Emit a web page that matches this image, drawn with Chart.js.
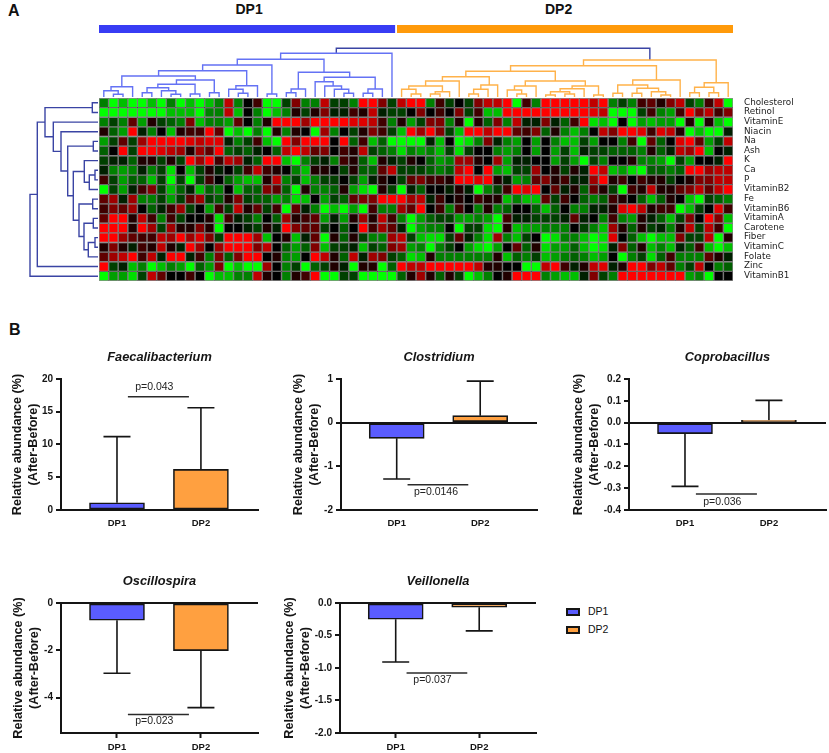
<!DOCTYPE html>
<html>
<head>
<meta charset="utf-8">
<title>DP1 DP2 heatmap and abundance bars</title>
<script src="https://cdn.jsdelivr.net/npm/chart.js@4/dist/chart.umd.min.js"></script>
<style>
  html, body { margin: 0; padding: 0; background: #fff; width: 829px; height: 753px; overflow: hidden; }
  canvas { position: absolute; }
  .txt { position: absolute; font-family: "Liberation Sans", Arial, sans-serif; color: #111; white-space: nowrap; line-height: 1; }
</style>
</head>
<body>
<script>
// Heatmap: one list per nutrient, one value per subject (-4 green ... +4 red)
const rowNames = ['Cholesterol', 'Retinol', 'VitaminE', 'Niacin', 'Na', 'Ash', 'K', 'Ca', 'P', 'VitaminB2', 'Fe', 'VitaminB6', 'VitaminA', 'Carotene', 'Fiber', 'VitaminC', 'Folate', 'Zinc', 'VitaminB1'];

const cholesterol = [-2,-4,-3,-4,-4,-3,-4,-2,-4,-3,-4,-3,-2,3,-2,0,1, -4,-4,-1,2,-2,-2,3,-1,-1,-2,4,4,2,-1,3,4,4,-2,1,-1,0,-1,2,3,3,4,-4,1, -2,4,4,4,4,4,3,4,-2,-1,-2,1,1.5,0.5,2,3,-1,-2,1,3,-4];
const retinol = [-4,-4,-4,-4,-4,-4,-4,-3,-3,-3,-4,-2,-2,3,-3,0,-2, -4,-3,-2,0.5,-1,0.5,2,-0.5,-0.5,1,0.5,3,-0.5,-1,-1,0,2,0,1,0,2,-1,1,-3,-3,4,4,4, 4,4,4,4,4,4,3.5,3,-4,-4,-4,-1,1,-2,-2.5,1,4,2,3,1,2];
const vitaminE = [-2,-1,-2,1.5,-2.5,0.5,-1,-1.5,-2,2,-3,-2,-2,-2.5,1.5,0,-2, 0.5,4,4,4,2.5,4,4,4,4,3.5,3.5,3,1,-2,0.5,-2.5,-1,2,2,-2,0.5,-4,0.5,-1.5,2,-2,3,-0.5, -0.5,2,-0.5,-1.5,1,4,-3.5,-3,-4,0,-4,-2.5,-3,-2.5,-2.5,-4,0.5,-4,0.5,-3,-4];
const niacin = [0.5,-1.5,-2.5,4,-0.5,-2,0,-3,0.5,1,1,4,1.5,-4,-3,-4,-2, -4,0.5,-2,0.5,0,-4,2.5,-2,0,-1,0.5,2,1,-1,-3,4,2.5,4,2,-1,-3,4,4,3,4,4,1.5,1, 2,-1.5,0.5,-2,-3,-2,0,3,2,4,4,3.5,1,3.5,3,0.5,-4,-3,-4,-4,-0.5];
const sodium = [-2.5,-1,1.5,-1,2.5,4,4,4,4,3.5,3,3.5,3.5,-0.5,-2,-1,1, -3,-4,4,2,4,4,4,0,4,-1.5,1,-3,-1.5,-4,-4,-4,-4,-0.5,-3,0,-4,-3.5,-2,2,-0.5,-2,-2.5,0, -2.5,0,-2,-3,-3,-1,-2.5,0,0,-2,1,-4,1.5,-1.5,0,3.5,4,1.5,-2.5,-1,3];
const ash = [-1.5,0,4,-1,4,4,3.5,3,2.5,0.5,2.5,1.5,4,-1.5,-1,-1.5,-0.5, 0,-1.5,3,4,3,1.5,2,0,1,0.5,3,-1,-1.5,-2,-3.5,-2,-2.5,-2,-3,-1,-3.5,-1,0,0,-2,-2.5,-2,0, -2.5,0,-2.5,-1,-3,-0.5,-1,-1,-1.5,-1.5,-1.5,-2,0.5,-1.5,-0.5,3,2.5,4,-3,0,-0.5];
const potassium = [-1,-0.5,-0.5,-1.5,0.5,0.5,-1,0.5,-1,4,2.5,4,1,3,2.5,-0.5,-1.5, 4,4,-3,-4,-2,-1,-0.5,-2,1,0.5,-1.5,-3,0.5,-0.5,-1,0.5,0,-1.5,-2.5,-2,2.5,2.5,0.5,0,2.5,-2.5,-0.5,-0.5, 0,0,-2.5,-1,-2.5,-4,-1,-2,0,0,0.5,-2,-2,-2.5,-4,-1,-2.5,0,0,-0.5,4];
const calcium = [-0.5,-2,-2.5,-2,-0.5,-2,-1,-3.5,0,-3,-1,0.5,-0.5,0,-1,1,3, 1,0.5,0,-2,-3,0.5,0.5,0,-1,0.5,-1.5,-1.5,1.5,3,-1,-1,-1,-1.5,-2,-1.5,3,4,0,4,-2.5,-3,-1,-1, 2.5,0,0.5,-1,0.5,-0.5,4,3,-3,-2.5,-3.5,-4,-1.5,-1.5,-2,-1.5,4,4,2.5,3,3];
const phosphorus = [1,-1,-2.5,-1.5,-1.5,-3,-1,-4,-1,-4,-1,1,0,-1.5,-2.5,-3,-3, 0.5,3,-2,-1,-3,-2,-1,-1,0,-1,-2.5,-0.5,0.5,0,-1,1.5,2,1,1,0.5,4,4,3.5,4,0.5,-0.5,-2.5,-2, 1.5,2,0.5,1,-0.5,-0.5,2.5,4,0.5,1,0,1,0.5,0.5,-1,0,0.5,2,2,3,3];
const vitaminB2 = [-4,-1,-2.5,-0.5,1,2,-1,-3,-1.5,-0.5,-3,-1.5,-2,0,-3,-1.5,-1.5, 2,1.5,-1.5,-4,0.5,-2,-2,-1.5,0.5,-2.5,-3.5,-4,0.5,-1,-4,-0.5,-1.5,0,0,-0.5,0.5,-0.5,-4,-2,-1,1,4,3.5, 4,0,1.5,-0.5,0.5,-1.5,1.5,0.5,-1,-4,1,0.5,3,0.5,0.5,1.5,2,3,1.5,3,4];
const iron = [1.5,2.5,-0.5,2.5,-2,-2,-1,-2.5,-1,1.5,2.5,-1,-1.5,0.5,2,-1,-1.5, -1.5,-2.5,-2,-3.5,-3,0,-2.5,-1,-1.5,1.5,2,2,4,4,4,2.5,3,-0.5,1,0,0.5,0,1,0.5,0.5,-3,-2,-3, -3,1.5,-1,1,0,-1.5,-2,-1.5,1,0.5,0,-1.5,-3,-1.5,0.5,0,-3,-4,-1,-1.5,-2];
const vitaminB6 = [1,2,1.5,2.5,0,-1.5,-0.5,1,2.5,-1,0,-2.5,1,-1,3,0.5,1.5, -1,1,-4,1.5,-0.5,-2,-4,-3,-4,-2.5,-4,1,-2,-2,2.5,1.5,4,0,1,-2,1,0,-2,0.5,-2,-1.5,0,0, -1.5,-3,-1.5,0,-2,-2,-0.5,-0.5,0.5,3.5,4,3,0.5,1,1,-4,-3,-1,0,3.5,1];
const vitaminA = [1.5,4,4,0.5,3,1,-2,1,-1,0,0,0.5,-3.5,1,-0.5,-1,-2, 0,-1.5,2.5,0.5,1,1.5,-2.5,-0.5,-2.5,0.5,2.5,0.5,3,1,-2,-4,-2.5,-1.5,-1,-1,-2.5,-2.5,-2,-2.5,-4,1,-0.5,-0.5, -1,-1,-1,-0.5,1.5,-0.5,0,-2,1,-2,-2.5,0.5,-0.5,-1.5,-3,-1,2,0,4,2,-3];
const carotene = [4,4,4,0.5,4,2.5,-1,2.5,0.5,0.5,2,0.5,-4,0,0,-0.5,-1, 0.5,-0.5,4,2,1.5,1.5,-1,0,-1.5,0,4,1,2.5,1.5,-0.5,-4,-2.5,-2,-2,0,-4,-1,-1,-3.5,-4,0.5,-3,-2.5, -2.5,-2,-2,-2,0,-1,-2,-3,2.5,0.5,-1.5,0.5,-1,-0.5,-2,0.5,3,-1,3,1,-4];
const fiber = [4,4,2.5,1.5,1,1,3,2.5,4,2.5,3.5,2,-1,4,4,4,2.5, -3,0,0.5,-3,-0.5,1.5,-4,0.5,-1.5,0.5,-1,-2,-2,2.5,3,-1,-3,-3.5,-3.5,-1,1.5,-0.5,-2,-3.5,2.5,-2,-3,-1, 0,-4,-3.5,-2,-2,-3,-4,-3.5,3.5,0,-1.5,-3,-4,-3,-3,2,-1,-1,3,-4,0.5];
const vitaminC = [0.5,2,0.5,-0.5,1,0.5,3,0.5,-0.5,4,2.5,0,2.5,4,4,4,2, 3,0,-1.5,-2.5,-1.5,2,-3,-1,-1,-0.5,-3,-1,-1.5,2,2.5,-2.5,-2,-4,-2,-1,0,-2.5,-3.5,-4,-2.5,0,1.5,-1.5, 0.5,-3.5,-2.5,-2.5,-1.5,-3,-4,-3.5,-0.5,2,-1.5,0.5,-3,-2,-3,-0.5,-1.5,1,-3,-4,-3];
const folate = [1.5,2.5,3,4,1,3,-0.5,4,4,-0.5,1,-2,2,-1.5,2,4,4, 0,0.5,-2,-2.5,0,4,3,0.5,-1.5,3,-0.5,2.5,2,-1,-1.5,-3.5,-3,0.5,-2,-2,-2,-2,-2,-2,0.5,-3,-1.5,-2, -1,-3,-2.5,-2,-1.5,-2,-3,-2.5,0,-4,-2,-1,-3.5,-1.5,1,-2,-2,-2,1.5,0.5,-0.5];
const zinc = [4,-1,-0.5,-3,-2,-4,-3,-2,-2.5,-4,-1.5,-2.5,2,-4,-3,-4,-4, 2.5,0,-2,-1,-4,-1.5,-1,0.5,-0.5,-4,0.5,0.5,-4,-1.5,4,3,3,4,4,4,4,4,3,0.5,0.5,0,0,-4, -4,3,4,1,-0.5,0.5,3,3.5,-0.5,0.5,4,4,2,3,1.5,-2,-1,3,0,-2,-1.5];
const vitaminB1 = [-4,-2.5,-2.5,-3.5,-1,3,1.5,0,0,1,0,-4,-3,-3,-2,-2,3, 0.5,0,-2,0.5,1,4,-4,-4,-1,-1,-4,-4,-4,-4,-1.5,0.5,2.5,0.5,-1.5,0.5,-1,-4,-3,-2,0,0.5,4,4, 4,-2,-2.5,-3,-3,-0.5,2,-1,-2,4,4,4,4,4,4,4,-2.5,-2,-4,0,0];

const heatRows = [cholesterol, retinol, vitaminE, niacin, sodium, ash, potassium, calcium, phosphorus, vitaminB2, iron, vitaminB6, vitaminA, carotene, fiber, vitaminC, folate, zinc, vitaminB1];

// Column groups, number of subjects in each
const groupNames = ['DP1', 'DP2'];
const groupSizes = [31, 35];

// Dendrograms: [merge height, left branch, right branch], a plain number is a leaf
const subtreeC = [11.3, [7.3, 0, [3.7, 1, 2]], 3];
const subtreeD = [18, [13.7, [10.3, [5.3, 4, 5], [7.3, 6, [3.7, 7, 8]]], [4, 9, 10]], [5.3, 11, 12]];
const subtreeE = [12.3, [8.7, 13, [4.7, 14, 15]], 16];
const subtreeH = [16.3, 22, [12, 23, [8.7, 24, [4.7, 25, 26]]]];
const subtreeG = [25.7, [9, [5.3, 19, 20], 21], [20.7, subtreeH, [9, [4.7, 27, 28], 29]]];
const treeDp1 = [44.7, [38.7, [33, [27.3, [22, subtreeC, subtreeD], subtreeE], [4, 17, 18]], subtreeG], 30];

const subtreeK = [21.3, [17, [12, [8.7, 31, [4, 32, 33]], [6.3, [4, 34, 35], 36]], 37], [13, [8.7, [4, 38, 39], 40], 41]];
const subtreeL = [17, [12, [8, 42, [4, 43, 44]], 45], [12, [9.3, [6.3, [3, 46, 47], [4, 48, 49]], 50], [3, 51, 52]]];
const subtreeM = [18, [13, [4.7, 53, 54], [9.7, [4.7, 55, 56], [6.3, 57, [3, 58, 59]]]], 60];
const subtreeN = [15.3, [10.7, [5.3, 61, 62], [5.3, 63, 64]], 65];
const treeDp2 = [38, [32.3, [26.7, subtreeK, subtreeL], subtreeM], subtreeN];
const rootHeight = 49.7;

const rowLower = [20, [6.3, 10, 11], [15, [5.7, 12, 13], [10.7, [4, 14, 15], 16]]];
const rowUpper = [14.7, 6, [9.7, [4, 7, 8], 9]];
const rowTree = [69, [61.7, [54, [6.7, 0, 1], [45.7, 2, [38, 3, [31.3, [5.7, 4, 5], [25.7, rowUpper, rowLower]]]]], 17], 18];

// Panel B values
const barLabels = ['DP1', 'DP2'];

const faecaliValues = [1.1, 6.2];
const faecaliErrors = [11.2, 15.6];
const faecaliTicks = [0, 5, 10, 15, 20];
const faecaliTickLabels = ['0', '5', '10', '15', '20'];

const clostridiumValues = [-0.36, 0.16];
const clostridiumErrors = [-1.29, 0.95];
const clostridiumTicks = [-2, -1, 0, 1];
const clostridiumTickLabels = ['-2', '-1', '0', '1'];

const coprobacillusValues = [-0.05, 0.011];
const coprobacillusErrors = [-0.292, 0.102];
const coprobacillusTicks = [-0.4, -0.3, -0.2, -0.1, 0, 0.1, 0.2];
const coprobacillusTickLabels = ['-0.4', '-0.3', '-0.2', '-0.1', '0.0', '0.1', '0.2'];

const oscillospiraValues = [-0.73, -2.01];
const oscillospiraErrors = [-2.97, -4.42];
const oscillospiraTicks = [-4, -2, 0];
const oscillospiraTickLabels = ['-4', '-2', '0'];

const veillonellaValues = [-0.25, -0.065];
const veillonellaErrors = [-0.908, -0.43];
const veillonellaTicks = [-2, -1.5, -1, -0.5, 0];
const veillonellaTickLabels = ['-2.0', '-1.5', '-1.0', '-0.5', '0.0'];

const FONT = '"Liberation Sans", Arial, sans-serif';
const DP1_FILL = '#5a5cff';
const DP2_FILL = '#ffa040';
const INK = '#151515';

// Helpers
function addCanvas(left, top, width, height) {
  const c = document.createElement('canvas');
  c.width = width;
  c.height = height;
  c.style.left = left + 'px';
  c.style.top = top + 'px';
  document.body.appendChild(c);
  return c.getContext('2d');
}

function addText(text, left, top, css) {
  const d = document.createElement('div');
  d.className = 'txt';
  d.textContent = text;
  d.style.left = left + 'px';
  d.style.top = top + 'px';
  Object.assign(d.style, css);
  document.body.appendChild(d);
  return d;
}

function heatColor(v) {
  const level = Math.round(255 * Math.abs(v) / 4);
  return v > 0 ? `rgb(${level},0,0)` : `rgb(0,${level},0)`;
}

// Walks a tree and pushes its elbows as points, NaN breaks the line between them
function collect(tree, out) {
  if (typeof tree === 'number') return { pos: tree + 0.5, h: 1 };
  const l = collect(tree[1], out);
  const r = collect(tree[2], out);
  out.push({ pos: l.pos, h: l.h }, { pos: l.pos, h: tree[0] }, { pos: r.pos, h: tree[0] }, { pos: r.pos, h: r.h }, { pos: NaN, h: NaN });
  return { pos: (l.pos + r.pos) / 2, h: tree[0] };
}

function lineSet(points, color, width) {
  return { data: points, borderColor: color, borderWidth: width, showLine: true, pointRadius: 0, tension: 0 };
}

const hiddenPlugins = { legend: { display: false }, title: { display: false }, tooltip: { enabled: false } };

// Group bar on top of the heatmap
new Chart(addCanvas(99, 25, 634, 8), {
  type: 'bar',
  data: {
    labels: ['groups'],
    datasets: [
      { data: [groupSizes[0]], backgroundColor: '#383cf4', borderColor: '#fff', borderWidth: { right: 2 }, borderSkipped: false },
      { data: [groupSizes[1]], backgroundColor: '#ff9a0a' }
    ]
  },
  options: {
    indexAxis: 'y', responsive: false, animation: false,
    layout: { padding: 0 },
    plugins: hiddenPlugins,
    datasets: { bar: { barPercentage: 1, categoryPercentage: 1 } },
    scales: {
      x: { display: false, stacked: true, min: 0, max: 66 },
      y: { display: false, stacked: true }
    }
  }
});

// Column dendrogram
const dp1Segments = [];
const dp2Segments = [];
const dp1Top = collect(treeDp1, dp1Segments);
const dp2Top = collect(treeDp2, dp2Segments);
const rootSegment = [
  { pos: dp1Top.pos, h: dp1Top.h }, { pos: dp1Top.pos, h: rootHeight },
  { pos: dp2Top.pos, h: rootHeight }, { pos: dp2Top.pos, h: dp2Top.h }
];
const toColumnPoint = p => ({ x: p.pos, y: p.h });

new Chart(addCanvas(99, 40, 634, 58), {
  type: 'scatter',
  data: {
    datasets: [
      lineSet(dp1Segments.map(toColumnPoint), '#6472f4', 1.4),
      lineSet(dp2Segments.map(toColumnPoint), '#ffb24a', 1.4),
      lineSet(rootSegment.map(toColumnPoint), '#3a44a4', 1.4)
    ]
  },
  options: {
    responsive: false, animation: false,
    layout: { padding: 0 },
    plugins: hiddenPlugins,
    scales: {
      x: { display: false, type: 'linear', min: 0, max: 66 },
      y: { display: false, min: 0, max: 58 }
    }
  }
});

// Row dendrogram
const rowSegments = [];
collect(rowTree, rowSegments);

new Chart(addCanvas(24, 98, 75, 183), {
  type: 'scatter',
  data: { datasets: [lineSet(rowSegments.map(p => ({ x: p.h, y: p.pos })), '#3a44a4', 1.4)] },
  options: {
    responsive: false, animation: false,
    layout: { padding: 0 },
    plugins: hiddenPlugins,
    scales: {
      x: { display: false, type: 'linear', min: 0, max: 75, reverse: true },
      y: { display: false, min: 0, max: 19, reverse: true }
    }
  }
});

// Row names next to the heatmap, placed with the y scale of the chart
const rowLabelPlugin = {
  id: 'rowLabels',
  afterDraw(chart) {
    const { ctx, chartArea, scales: { y } } = chart;
    ctx.save();
    ctx.fillStyle = '#222';
    ctx.font = '8.8px "DejaVu Sans", sans-serif';
    ctx.textBaseline = 'middle';
    rowNames.forEach((name, r) => ctx.fillText(name, chartArea.right + 11, y.getPixelForValue(r + 0.45)));
    ctx.restore();
  }
};

// Heatmap, a stacked bar per subject with one unit per nutrient
const columnLabels = heatRows[0].map((v, i) => i + 1);

new Chart(addCanvas(99, 98, 730, 183), {
  type: 'bar',
  data: {
    labels: columnLabels,
    datasets: heatRows.map((row, r) => ({
      label: rowNames[r],
      data: row.map(() => 1),
      backgroundColor: row.map(heatColor),
      borderColor: 'rgba(0,0,0,0.45)',
      borderWidth: 1,
      borderSkipped: false
    }))
  },
  plugins: [rowLabelPlugin],
  options: {
    responsive: false, animation: false,
    layout: { padding: { right: 96 } },
    plugins: hiddenPlugins,
    datasets: { bar: { barPercentage: 1, categoryPercentage: 1 } },
    scales: {
      x: { display: false, stacked: true },
      y: { display: false, stacked: true, min: 0, max: 19, reverse: true }
    }
  }
});

// Error bars, significance line and p text for the bar panels
const errorBarPlugin = {
  id: 'errorBars',
  beforeDatasetsDraw(chart, args, opts) {
    const { ctx, scales: { x, y } } = chart;
    ctx.save();
    ctx.strokeStyle = INK;
    ctx.lineWidth = 1.6;
    opts.values.forEach((v, i) => {
      const px = x.getPixelForValue(i + 1);
      const top = y.getPixelForValue(opts.errors[i]);
      ctx.beginPath();
      ctx.moveTo(px, y.getPixelForValue(v));
      ctx.lineTo(px, top);
      ctx.moveTo(px - 13.5, top);
      ctx.lineTo(px + 13.5, top);
      ctx.stroke();
    });
    ctx.restore();
  },
  afterDatasetsDraw(chart, args, opts) {
    const { ctx, scales: { x, y } } = chart;
    ctx.save();
    ctx.strokeStyle = '#2a2a2a';
    ctx.lineWidth = 1.5;
    const sy = y.getPixelForValue(opts.sigValue);
    ctx.beginPath();
    ctx.moveTo(x.getPixelForValue(1.13), sy);
    ctx.lineTo(x.getPixelForValue(1.857), sy);
    ctx.stroke();
    ctx.fillStyle = '#222';
    ctx.font = `10.5px ${FONT}`;
    ctx.textAlign = 'center';
    ctx.textBaseline = 'middle';
    ctx.fillText(opts.pText, x.getPixelForValue(opts.pX), y.getPixelForValue(opts.pValue));
    ctx.restore();
  }
};

// left/right/top/bottom are where the axes sit, labelLeft where the y title starts
function barPanel(box, name, values, errors, yTicks, tickLabels, yMin, yMax, sig, bottomTicks) {
  const canvasLeft = box.labelLeft;
  const canvasTop = box.top - 29;
  const footer = box.footer;
  const ctx = addCanvas(canvasLeft, canvasTop, box.right + 2 - canvasLeft, box.bottom + footer - canvasTop);
  new Chart(ctx, {
    type: 'bar',
    data: {
      datasets: [{
        data: values.map((v, i) => ({ x: i + 1, y: v })),
        backgroundColor: [DP1_FILL, DP2_FILL],
        borderColor: INK,
        borderWidth: 1.6,
        borderSkipped: false,
        barThickness: 55
      }]
    },
    plugins: [errorBarPlugin],
    options: {
      responsive: false, animation: false,
      layout: { padding: { left: 0, right: 2, top: 0, bottom: 0 } },
      plugins: {
        legend: { display: false },
        tooltip: { enabled: false },
        title: {
          display: true, text: name, fullSize: false, color: INK,
          font: { family: FONT, size: 12.8, weight: 'bold', style: 'italic' },
          padding: { top: 0, bottom: 13.6 }
        },
        errorBars: { values, errors, sigValue: sig.line, pValue: sig.textAt, pX: sig.textX, pText: sig.text }
      },
      scales: {
        x: {
          type: 'linear', min: 0.333, max: 2.68, offset: false,
          afterBuildTicks: scale => { scale.ticks = barLabels.map((l, i) => ({ value: i + 1 })); },
          grid: { offset: false, drawOnChartArea: false, drawTicks: bottomTicks, tickLength: 5, tickWidth: 2, tickColor: INK },
          border: { color: INK, width: 2 },
          ticks: {
            autoSkip: false, maxRotation: 0, padding: bottomTicks ? 3.5 : 8, color: INK,
            font: { family: FONT, size: 9.5, weight: 'bold' },
            callback: v => barLabels[v - 1]
          },
          afterFit: scale => { scale.height = footer; }
        },
        y: {
          min: yMin, max: yMax,
          afterBuildTicks: scale => { scale.ticks = yTicks.map(value => ({ value })); },
          grid: {
            tickLength: 5, tickWidth: 2, tickColor: INK, lineWidth: 2,
            color: c => (c.tick && c.tick.value === 0 ? INK : 'rgba(0,0,0,0)')
          },
          border: { color: INK, width: 2 },
          ticks: {
            autoSkip: false, padding: 3, color: INK,
            font: { family: FONT, size: 10, weight: 'bold' },
            callback: (v, i) => tickLabels[i]
          },
          title: {
            display: true, text: ['Relative abundance (%)', '(After-Before)'], color: INK,
            font: { family: FONT, size: 12.6, weight: 'bold', lineHeight: 1.27 },
            padding: { top: 4, bottom: 0 }
          },
          afterFit: scale => { scale.width = box.left - canvasLeft; }
        }
      }
    }
  });
}

barPanel({ labelLeft: 6, left: 61, right: 258, top: 379, bottom: 510, footer: 24 }, 'Faecalibacterium',
  faecaliValues, faecaliErrors, faecaliTicks, faecaliTickLabels, 0, 20,
  { line: 17.3, textAt: 18.8, textX: 1.445, text: 'p=0.043' }, false);

barPanel({ labelLeft: 287, left: 341, right: 537, top: 379, bottom: 510, footer: 24 }, 'Clostridium',
  clostridiumValues, clostridiumErrors, clostridiumTicks, clostridiumTickLabels, -2, 1,
  { line: -1.42, textAt: -1.6, textX: 1.47, text: 'p=0.0146' }, false);

barPanel({ labelLeft: 567, left: 629, right: 826, top: 379, bottom: 510, footer: 24 }, 'Coprobacillus',
  coprobacillusValues, coprobacillusErrors, coprobacillusTicks, coprobacillusTickLabels, -0.4, 0.2,
  { line: -0.327, textAt: -0.362, textX: 1.445, text: 'p=0.036' }, false);

barPanel({ labelLeft: 7, left: 61, right: 258, top: 603, bottom: 733, footer: 20 }, 'Oscillospira',
  oscillospiraValues, oscillospiraErrors, oscillospiraTicks, oscillospiraTickLabels, -5.49, 0,
  { line: -4.71, textAt: -5, textX: 1.445, text: 'p=0.023' }, true);

barPanel({ labelLeft: 278, left: 340, right: 536, top: 603, bottom: 733, footer: 20 }, 'Veillonella',
  veillonellaValues, veillonellaErrors, veillonellaTicks, veillonellaTickLabels, -2, 0,
  { line: -1.077, textAt: -1.18, textX: 1.44, text: 'p=0.037' }, true);

// Legend of panel B
barLabels.forEach((label, i) => {
  addText('', 566, 608 + i * 18, { width: '10px', height: '4px', border: `2px solid ${INK}`, background: i === 0 ? DP1_FILL : DP2_FILL });
  addText(label, 588, 605.5 + i * 18, { fontSize: '10.5px' });
});

// Panel letters and group names
addText('A', 8, 3, { fontSize: '16px', fontWeight: 'bold' });
addText('B', 9, 322, { fontSize: '16px', fontWeight: 'bold' });
addText(groupNames[0], 235.5, 2, { fontSize: '14px', fontWeight: 'bold' });
addText(groupNames[1], 545, 2, { fontSize: '14px', fontWeight: 'bold' });
</script>
</body>
</html>
